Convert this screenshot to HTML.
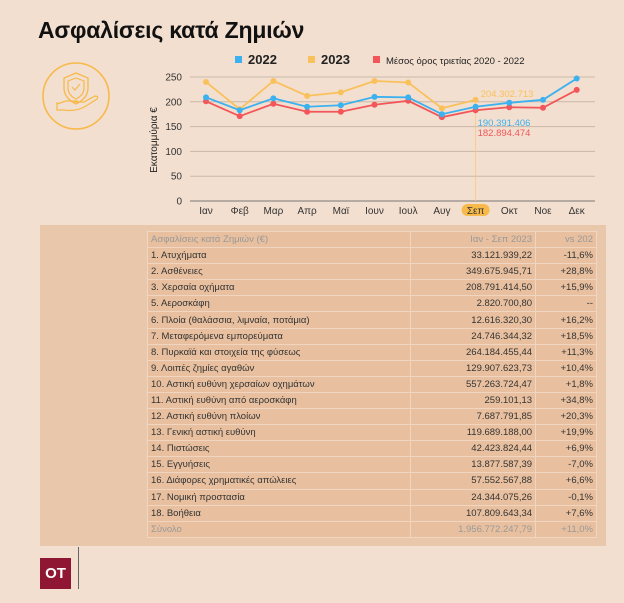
<!DOCTYPE html>
<html><head><meta charset="utf-8">
<style>
body{margin:0;width:624px;height:603px;background:#f3dfcf;font-family:"Liberation Sans","DejaVu Sans",sans-serif;position:relative;overflow:hidden}
.t{position:absolute;left:38px;top:17px;font-size:23px;font-weight:bold;color:#111;letter-spacing:-0.2px}
.panel{position:absolute;left:40px;top:225px;width:566px;height:321px;background:#e9c7aa}
table{position:absolute;left:147px;top:231px;width:450px;border-collapse:collapse;font-size:9.5px;color:#333}
td{height:15.1px;padding:0 3px;border:1px solid #f0d6c0;background:#e8c09f;white-space:nowrap}
td.n{text-align:right}
tr.h td,tr.s td{color:#999}
.logo{position:absolute;left:40px;top:558px;width:31px;height:31px;background:#8f1733;color:#fff;font-weight:bold;font-size:15px;text-align:center;line-height:31px}
.vl{position:absolute;left:78px;top:547px;width:1px;height:42px;background:#666}
</style></head><body>
<div class="t">Ασφαλίσεις κατά Ζημιών</div>
<svg style="position:absolute;left:0;top:0" width="140" height="140">
<circle cx="76" cy="96" r="33" fill="none" stroke="#f6b94a" stroke-width="1.6"/>
<path d="M76 73 L64 78 L64 88 Q64 98 76 104 Q88 98 88 88 L88 78 Z" fill="none" stroke="#f6b94a" stroke-width="1.3"/>
<path d="M76 78 L68 81 L68 88 Q68 95 76 99 Q84 95 84 88 L84 81 Z" fill="none" stroke="#f6b94a" stroke-width="1.2"/>
<path d="M72 87 L75 90 L80 84" fill="none" stroke="#f6b94a" stroke-width="1.2"/>
<path d="M57 102 L57 110 L64 110 Q76 112 86 106 L97 99 Q99 96 95 96 L84 102 L74 102 M57 104 L66 101 L78 101" fill="none" stroke="#f6b94a" stroke-width="1.2"/>
</svg>
<svg id="chart" style="position:absolute;left:0;top:0" width="624" height="225"></svg>
<div class="panel"></div>
<table>
<tr class="h"><td>Ασφαλίσεις κατά Ζημιών (€)</td><td class="n">Ιαν - Σεπ 2023</td><td class="n">vs 202</td></tr>
<tr><td>1. Ατυχήματα</td><td class="n">33.121.939,22</td><td class="n">-11,6%</td></tr>
<tr><td>2. Ασθένειες</td><td class="n">349.675.945,71</td><td class="n">+28,8%</td></tr>
<tr><td>3. Χερσαία οχήματα</td><td class="n">208.791.414,50</td><td class="n">+15,9%</td></tr>
<tr><td>5. Αεροσκάφη</td><td class="n">2.820.700,80</td><td class="n">--</td></tr>
<tr><td>6. Πλοία (θαλάσσια, λιμναία, ποτάμια)</td><td class="n">12.616.320,30</td><td class="n">+16,2%</td></tr>
<tr><td>7. Μεταφερόμενα εμπορεύματα</td><td class="n">24.746.344,32</td><td class="n">+18,5%</td></tr>
<tr><td>8. Πυρκαϊά και στοιχεία της φύσεως</td><td class="n">264.184.455,44</td><td class="n">+11,3%</td></tr>
<tr><td>9. Λοιπές ζημίες αγαθών</td><td class="n">129.907.623,73</td><td class="n">+10,4%</td></tr>
<tr><td>10. Αστική ευθύνη χερσαίων οχημάτων</td><td class="n">557.263.724,47</td><td class="n">+1,8%</td></tr>
<tr><td>11. Αστική ευθύνη από αεροσκάφη</td><td class="n">259.101,13</td><td class="n">+34,8%</td></tr>
<tr><td>12. Αστική ευθύνη πλοίων</td><td class="n">7.687.791,85</td><td class="n">+20,3%</td></tr>
<tr><td>13. Γενική αστική ευθύνη</td><td class="n">119.689.188,00</td><td class="n">+19,9%</td></tr>
<tr><td>14. Πιστώσεις</td><td class="n">42.423.824,44</td><td class="n">+6,9%</td></tr>
<tr><td>15. Εγγυήσεις</td><td class="n">13.877.587,39</td><td class="n">-7,0%</td></tr>
<tr><td>16. Διάφορες χρηματικές απώλειες</td><td class="n">57.552.567,88</td><td class="n">+6,6%</td></tr>
<tr><td>17. Νομική προστασία</td><td class="n">24.344.075,26</td><td class="n">-0,1%</td></tr>
<tr><td>18. Βοήθεια</td><td class="n">107.809.643,34</td><td class="n">+7,6%</td></tr>
<tr class="s"><td>Σύνολο</td><td class="n">1.956.772.247,79</td><td class="n">+11,0%</td></tr>
</table>
<div class="logo">OT</div>
<div class="vl"></div>
<script>
const months=["Ιαν","Φεβ","Μαρ","Απρ","Μαϊ","Ιουν","Ιουλ","Αυγ","Σεπ","Οκτ","Νοε","Δεκ"];
const s2022=[209,183,207,190,193,210,209,175,190,198,204,247];
const s2023=[240,185,242,212,219,242,239,187,204];
const sAvg=[201,171,196,180,180,194,202,169,183,189,188,224];
const yTicks=[0,50,100,150,200,250];
const ns="http://www.w3.org/2000/svg";
const svg=document.getElementById('chart');
const X=i=>206+i*33.7, Y=v=>201-v*0.496;
function el(t,a,txt){const e=document.createElementNS(ns,t);for(const k in a)e.setAttribute(k,a[k]);if(txt!=null)e.textContent=txt;svg.appendChild(e);return e;}
yTicks.forEach(v=>{
 const g=el('line',{x1:190,x2:595,y1:Y(v),y2:Y(v),stroke:v==0?'#777':'#c9b8aa','stroke-width':1});
 
 const t=el('text',{x:182,y:Y(v)+3.5,'text-anchor':'end','font-size':10,fill:'#333'},v);
 
});
const yt=el('text',{x:0,y:0,transform:'translate(157,140) rotate(-90)','text-anchor':'middle','font-size':10,fill:'#222'},'Εκατομμύρια €');

el('line',{x1:X(8),x2:X(8),y1:Y(204),y2:201,stroke:'#f6c77a','stroke-width':0.7});
const hl=el('rect',{x:X(8)-14,y:204,width:28,height:12,rx:6,fill:'#f6b94a'});

months.forEach((m,i)=>{const t=el('text',{x:X(i),y:214,'text-anchor':'middle','font-size':10,fill:'#333'},m);
 });
function series(d,c,name){
 const p=el('polyline',{points:d.map((v,i)=>X(i)+','+Y(v)).join(' '),fill:'none',stroke:c,'stroke-width':1.8});
 
 d.forEach((v,i)=>{const c2=el('circle',{cx:X(i),cy:Y(v),r:3,fill:c});
  });
}
series(s2023,'#f9c15c','2023');series(sAvg,'#f2555a','avg');series(s2022,'#3bb1f0','2022');
[["204.302.713",X(8)+5,Y(204)-3,'#f9c15c'],["190.391.406",X(8)+2,126,'#3bb1f0'],["182.894.474",X(8)+2,136,'#f2555a']].forEach((a,i)=>{
 const t=el('text',{x:a[1],y:a[2],'font-size':9.5,fill:a[3]},a[0]);});
[["2022",235,'#3bb1f0',13,true],["2023",308,'#f9c15c',13,true],["Μέσος όρος τριετίας 2020 - 2022",373,'#f2555a',9.5,false]].forEach((a,i)=>{
 const r=el('rect',{x:a[1],y:56,width:7,height:7,fill:a[2]});
 const t=el('text',{x:a[1]+13,y:64,'font-size':a[3],'font-weight':a[4]?'bold':'normal',fill:'#222'},a[0]);});
</script>
</body></html>
